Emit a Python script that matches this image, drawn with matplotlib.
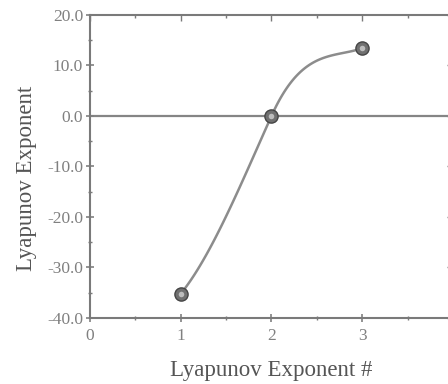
#!/usr/bin/env python3
"""
Lyapunov exponent spectrum, redrawn in matplotlib.
"""

import numpy as np
import matplotlib
matplotlib.use("Agg")
import matplotlib.pyplot as plt
from matplotlib.ticker import MultipleLocator, FormatStrFormatter

# Data
exponent_index = [1, 2, 3]
exponent_value = [-35.2, 0.0, 13.4]

# Tangents for the smooth connecting curve (shape of the drawn spline)
curve_slopes = [22.0, 40.0, 6.0]

x_ticks = [0, 1, 2, 3]
y_ticks = [-40, -30, -20, -10, 0, 10, 20]


def hermite_curve(xs, ys, slopes, n=60):
    """Cubic Hermite curve through the points with the given tangents."""
    out_x, out_y = [], []
    for i in range(len(xs) - 1):
        h = xs[i + 1] - xs[i]
        t = np.linspace(0, 1, n)
        h00 = 2 * t**3 - 3 * t**2 + 1
        h10 = t**3 - 2 * t**2 + t
        h01 = -2 * t**3 + 3 * t**2
        h11 = t**3 - t**2
        out_x.append(xs[i] + t * h)
        out_y.append(h00 * ys[i] + h10 * h * slopes[i]
                     + h01 * ys[i + 1] + h11 * h * slopes[i + 1])
    return np.concatenate(out_x), np.concatenate(out_y)


plt.rcParams['font.family'] = ['Liberation Serif', 'DejaVu Serif']

fig = plt.figure(figsize=(4.48, 3.84), dpi=100)
# axes run slightly past the right edge, like the cropped original
ax = fig.add_axes([0.201, 0.172, 0.81, 0.789])

axis_color = '#7a7a7a'
line_color = '#8c8c8c'
label_color = '#555555'

# zero line
ax.axhline(0, color='#858585', linewidth=1.6, zorder=1)

cx, cy = hermite_curve(exponent_index, exponent_value, curve_slopes)
ax.plot(cx, cy, color=line_color, linewidth=1.8, zorder=2)

# sphere-like markers
ax.plot(exponent_index, exponent_value, 'o', markersize=9.5,
        markerfacecolor='#707070', markeredgecolor='#454545',
        markeredgewidth=1.0, zorder=3)
ax.plot(exponent_index, exponent_value, 'o', markersize=4,
        markerfacecolor='#bdbdbd', markeredgecolor='none', zorder=4)

ax.set_xlim(0, 4)
ax.set_ylim(-40, 20)
ax.set_xticks(x_ticks)
ax.set_yticks(y_ticks)
ax.xaxis.set_minor_locator(MultipleLocator(0.5))
ax.yaxis.set_minor_locator(MultipleLocator(5))
ax.yaxis.set_major_formatter(FormatStrFormatter('%.1f'))

for side in ax.spines.values():
    side.set_color(axis_color)
    side.set_linewidth(1.5)

ax.tick_params(which='major', direction='inout', length=6, width=1.2,
               colors='#808080', labelsize=12.5, pad=2)
ax.tick_params(which='minor', direction='inout', length=3.5, width=1.0,
               colors=axis_color)
ax.tick_params(axis='x', which='major', pad=4)

# mirrored ticks on top and right, pointing inward
top = ax.secondary_xaxis('top')
top.set_xticks(x_ticks)
top.xaxis.set_minor_locator(MultipleLocator(0.5))
top.tick_params(which='both', direction='in', colors=axis_color,
                labeltop=False, width=1.0)
top.tick_params(which='major', length=4)
top.tick_params(which='minor', length=2.5)
top.spines['top'].set_visible(False)

right = ax.secondary_yaxis('right')
right.set_yticks(y_ticks)
right.yaxis.set_minor_locator(MultipleLocator(5))
right.tick_params(which='both', direction='in', colors=axis_color,
                  labelright=False, width=1.0)
right.tick_params(which='major', length=4)
right.tick_params(which='minor', length=2.5)
right.spines['right'].set_visible(False)

ax.set_xlabel('Lyapunov Exponent #', fontsize=16.5, color=label_color,
              labelpad=12)
ax.set_ylabel('Lyapunov Exponent', fontsize=16.5, color=label_color)
ax.yaxis.set_label_coords(-0.146, 0.46)

plt.savefig('out.png', dpi=100)
